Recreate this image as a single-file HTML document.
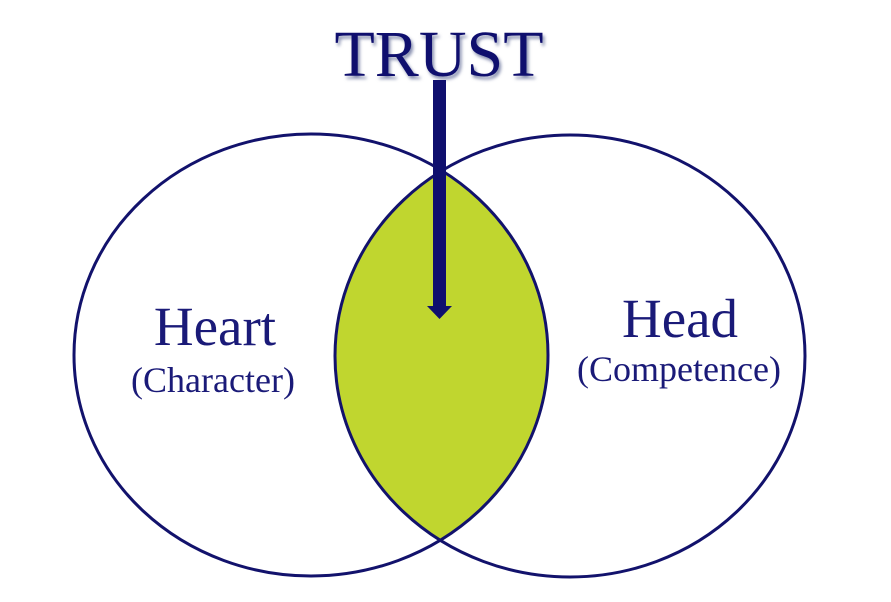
<!DOCTYPE html>
<html><head><style>
html,body{margin:0;padding:0;background:#fff;}
svg{display:block;}
</style></head><body>
<svg width="891" height="602" viewBox="0 0 891 602" xmlns="http://www.w3.org/2000/svg">
<defs>
<clipPath id="cl"><ellipse cx="311" cy="355" rx="237" ry="221"/></clipPath>
<filter id="sh"><feGaussianBlur stdDeviation="1.5"/></filter>
</defs>
<ellipse cx="570" cy="356" rx="235" ry="221" fill="#c0d62f" clip-path="url(#cl)"/>
<ellipse cx="311" cy="355" rx="237" ry="221" fill="none" stroke="#12126c" stroke-width="3"/>
<ellipse cx="570" cy="356" rx="235" ry="221" fill="none" stroke="#12126c" stroke-width="3"/>
<text x="441" y="79" text-anchor="middle" font-family="Liberation Serif, serif" font-size="66" fill="#8890b0" filter="url(#sh)">TRUST</text>
<text x="439" y="76" text-anchor="middle" font-family="Liberation Serif, serif" font-size="66" fill="#0f0f6e">TRUST</text>
<rect x="433" y="80" width="13" height="228" fill="#0f0f6e"/>
<polygon points="427,306 452,306 439.5,319" fill="#0f0f6e"/>
<text x="215" y="345" text-anchor="middle" font-family="Liberation Serif, serif" font-size="55" fill="#1a1a78">Heart</text>
<text x="213" y="392" text-anchor="middle" font-family="Liberation Serif, serif" font-size="36" fill="#1a1a78">(Character)</text>
<text x="680" y="337" text-anchor="middle" font-family="Liberation Serif, serif" font-size="55" fill="#1a1a78">Head</text>
<text x="679" y="381" text-anchor="middle" font-family="Liberation Serif, serif" font-size="36" fill="#1a1a78">(Competence)</text>
</svg>
</body></html>
